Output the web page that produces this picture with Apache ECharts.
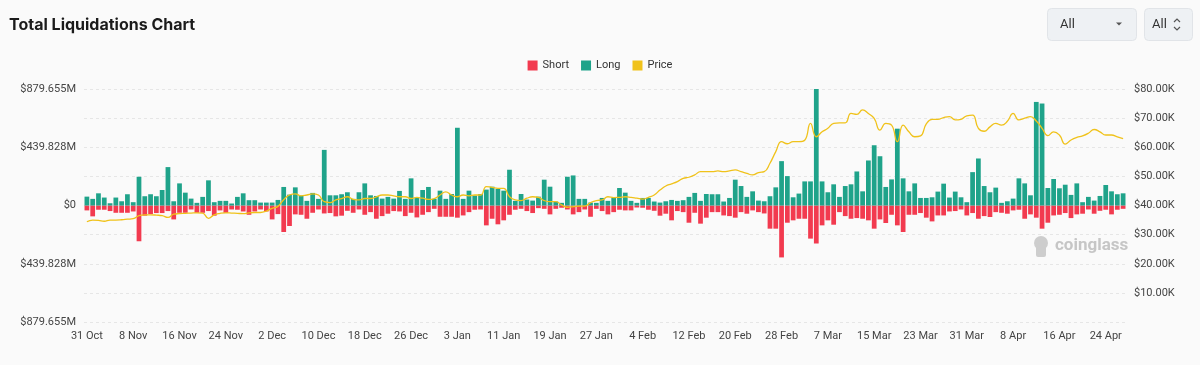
<!DOCTYPE html>
<html>
<head>
<meta charset="utf-8">
<script src="https://cdn.jsdelivr.net/npm/echarts@6/dist/echarts.min.js"></script>
<style>
html,body{margin:0;padding:0;background:#fafafa;}
#chart{width:1200px;height:365px;}
</style>
</head>
<body>
<div id="chart"></div>
<script>
// Daily categories 31 Oct 2023 .. 27 Apr 2024
const startDate = [2023, 9, 31];
const dayCount = 180;
const monthNames = ['Jan','Feb','Mar','Apr','May','Jun','Jul','Aug','Sep','Oct','Nov','Dec'];
const categories = [];
for (let i = 0; i < dayCount; i++) {
  const d = new Date(Date.UTC(startDate[0], startDate[1], startDate[2] + i));
  categories.push(d.getUTCDate() + ' ' + monthNames[d.getUTCMonth()]);
}

// Long liquidations ($M)
const longValues = [
  67,50,92,60,17,60,32,85,25,217,70,85,70,117,290,32,167,97,52,20,65,190,25,35,35,15,65,92,40,40,22,22,22,42,140,82,
  137,75,35,95,50,420,77,77,85,100,50,100,167,77,72,52,65,52,110,50,205,57,117,140,50,112,50,87,587,50,112,75,87,120,142,125,
  112,270,35,87,45,37,67,195,142,30,20,217,227,50,50,22,20,57,35,57,132,97,35,20,57,57,30,22,32,42,35,40,65,95,35,87,
  85,85,30,57,195,147,65,107,37,32,70,137,335,222,62,90,182,182,879.655,182,100,160,65,147,160,257,107,340,455,372,140,197,580,205,107,167,
  57,57,62,105,165,60,105,62,25,252,355,147,100,135,20,32,52,205,167,77,782,770,132,200,130,157,80,167,25,65,37,72,155,107,85,92
];

// Short liquidations ($M, drawn downward)
const shortValues = [
  37,82,32,32,42,55,55,55,45,270,77,65,57,57,42,105,55,55,30,55,55,42,77,37,55,30,32,45,70,45,30,45,105,65,200,155,
  67,70,100,55,30,60,57,82,77,40,55,30,70,50,100,80,62,42,45,80,55,90,70,50,25,85,85,85,92,75,50,32,30,150,100,142,
  112,70,32,25,42,57,20,25,67,25,17,30,67,50,30,85,25,42,67,50,32,37,37,15,17,32,40,77,62,112,42,50,130,55,137,92,
  50,50,75,80,92,50,62,37,50,60,175,175,392,130,112,100,100,250,287,150,112,145,50,80,100,95,100,112,175,105,132,70,150,200,70,70,
  57,92,120,75,75,45,42,30,75,57,100,80,87,50,55,62,37,32,100,67,92,175,130,75,70,57,95,67,62,30,62,40,32,67,32,25
];

// BTC price ($K)
const priceValues = [
  34.4,35.0,34.9,34.6,35.0,35.0,35.1,35.3,35.5,36.5,36.8,36.8,36.7,36.5,35.9,37.0,37.2,37.3,37.4,37.5,37.4,35.6,36.8,37.3,37.5,37.4,37.3,37.2,37.5,37.6,37.6,38.1,39.0,39.7,42.0,43.6,
  44.0,43.3,43.6,44.0,43.6,41.3,41.0,41.9,42.4,43.0,42.1,41.9,42.4,42.4,43.0,43.6,43.6,43.3,43.0,43.0,42.4,42.8,42.5,42.1,42.4,43.6,44.7,43.6,43.0,43.6,43.3,43.6,43.6,46.5,46.2,45.9,
  45.9,43.0,41.9,41.7,42.5,43.0,42.8,41.7,41.3,41.3,40.2,39.4,39.6,39.8,39.8,41.0,41.7,41.9,43.0,42.7,42.8,43.0,42.8,42.5,42.2,42.8,43.6,45.3,46.7,47.4,48.2,49.3,49.7,50.5,51.6,51.6,
  51.6,51.9,51.6,51.9,52.2,51.6,51.0,50.5,51.3,51.6,54.5,58.5,61.9,61.2,61.9,61.9,62.4,68.2,63.6,65.3,66.5,68.2,68.4,68.4,71.6,71.3,72.8,71.6,69.9,65.9,68.2,67.6,61.9,67.6,65.3,63.6,
  63.9,68.0,69.6,69.6,70.2,70.5,69.4,69.6,70.8,71.0,66.5,65.5,67.0,68.2,67.6,68.9,71.6,69.4,70.0,70.5,69.0,66.5,64.0,65.3,64.2,61.1,62.5,63.4,63.9,64.8,66.1,65.3,64.2,64.2,63.6,63.0
];

// Tick labels
const leftMax = 879.655;
const leftInterval = 439.8275;
const leftTickLabels = ['$879.655M', '$439.828M', '$0', '$439.828M', '$879.655M'];
const rightTickLabels = ['', '$10.00K', '$20.00K', '$30.00K', '$40.00K', '$50.00K', '$60.00K', '$70.00K', '$80.00K'];

const RED = '#F23A4F';
const GREEN = '#1FA38A';
const YELLOW = '#F0C21A';
const FONT = 'Roboto, "Noto Sans", sans-serif';

const chart = echarts.init(document.getElementById('chart'), null, {renderer: 'canvas'});
chart.setOption({
  animation: false,
  backgroundColor: '#fafafa',
  textStyle: {fontFamily: FONT},
  title: {
    text: 'Total Liquidations Chart',
    left: 4, top: 12,
    textStyle: {fontSize: 16, fontWeight: 'bold', color: '#1b1b1b', fontFamily: 'Inter, "Open Sans", sans-serif'}
  },
  legend: {
    top: 55, left: 'center',
    itemWidth: 10, itemHeight: 10, itemGap: 12,
    icon: 'rect',
    textStyle: {fontSize: 11, color: '#333', fontFamily: FONT},
    data: ['Short', 'Long', 'Price']
  },
  grid: {left: 84, right: 74, top: 89, bottom: 43, containLabel: false},
  xAxis: {
    type: 'category',
    data: categories,
    boundaryGap: true,
    axisLine: {show: false, onZero: false},
    axisTick: {show: false},
    axisLabel: {interval: 7, color: '#444', fontSize: 11, margin: 9, fontFamily: FONT},
    splitLine: {show: false}
  },
  yAxis: [
    {
      type: 'value',
      min: -leftMax, max: leftMax, interval: leftInterval,
      axisLine: {show: false}, axisTick: {show: false},
      splitLine: {show: false},
      axisLabel: {
        color: '#444', fontSize: 11, margin: 8, fontFamily: FONT,
        formatter: function (v) {
          const idx = Math.round((leftMax - v) / leftInterval);
          return leftTickLabels[idx] || '';
        }
      }
    },
    {
      type: 'value',
      min: 0, max: 80, interval: 10,
      position: 'right',
      axisLine: {show: false}, axisTick: {show: false},
      splitLine: {show: true, lineStyle: {color: '#e6e6e6', type: [3, 3], width: 1}},
      axisLabel: {
        color: '#444', fontSize: 11, margin: 8, fontFamily: FONT,
        formatter: function (v) {
          return rightTickLabels[Math.round(v / 10)] || '';
        }
      }
    }
  ],
  graphic: [
    {type: 'rect', shape: {x: 1047.5, y: 8.5, width: 89, height: 32, r: 4},
     style: {fill: '#eef1f4', stroke: '#e1e4e8', lineWidth: 1}},
    {type: 'text', x: 1060, y: 24.5, style: {text: 'All', fill: '#333', font: '13px ' + FONT, textVerticalAlign: 'middle'}},
    {type: 'polygon', shape: {points: [[1116, 22.5], [1122, 22.5], [1119, 25.5]]}, style: {fill: '#555'}},
    {type: 'rect', shape: {x: 1144.5, y: 8.5, width: 48, height: 32, r: 4},
     style: {fill: '#eef1f4', stroke: '#e1e4e8', lineWidth: 1}},
    {type: 'text', x: 1152, y: 24.5, style: {text: 'All', fill: '#333', font: '13px ' + FONT, textVerticalAlign: 'middle'}},
    {type: 'polyline', shape: {points: [[1174, 22], [1177, 19], [1180, 22]]}, style: {stroke: '#555', lineWidth: 1.2, fill: null}},
    {type: 'polyline', shape: {points: [[1174, 27], [1177, 30], [1180, 27]]}, style: {stroke: '#555', lineWidth: 1.2, fill: null}},
    // watermark
    {type: 'circle', shape: {cx: 1041, cy: 243, r: 7}, style: {fill: '#cdcdcd'}},
    {type: 'rect', shape: {x: 1036, y: 246, width: 10, height: 11, r: 2}, style: {fill: '#cdcdcd'}},
    {type: 'text', x: 1055, y: 246, style: {text: 'coinglass', fill: '#c6c6c6', font: 'bold 17px ' + FONT, textVerticalAlign: 'middle'}}
  ],
  series: [
    {
      name: 'Short', type: 'bar', stack: 'liq', yAxisIndex: 0,
      data: shortValues.map(v => -v),
      itemStyle: {color: RED},
      barCategoryGap: '18%'
    },
    {
      name: 'Long', type: 'bar', stack: 'liq', yAxisIndex: 0,
      data: longValues,
      itemStyle: {color: GREEN},
      barCategoryGap: '18%'
    },
    {
      name: 'Price', type: 'line', yAxisIndex: 1,
      data: priceValues,
      smooth: true, showSymbol: false, symbol: 'none',
      lineStyle: {color: YELLOW, width: 1.3},
      itemStyle: {color: YELLOW},
      z: 5
    }
  ]
});
</script>
</body>
</html>
